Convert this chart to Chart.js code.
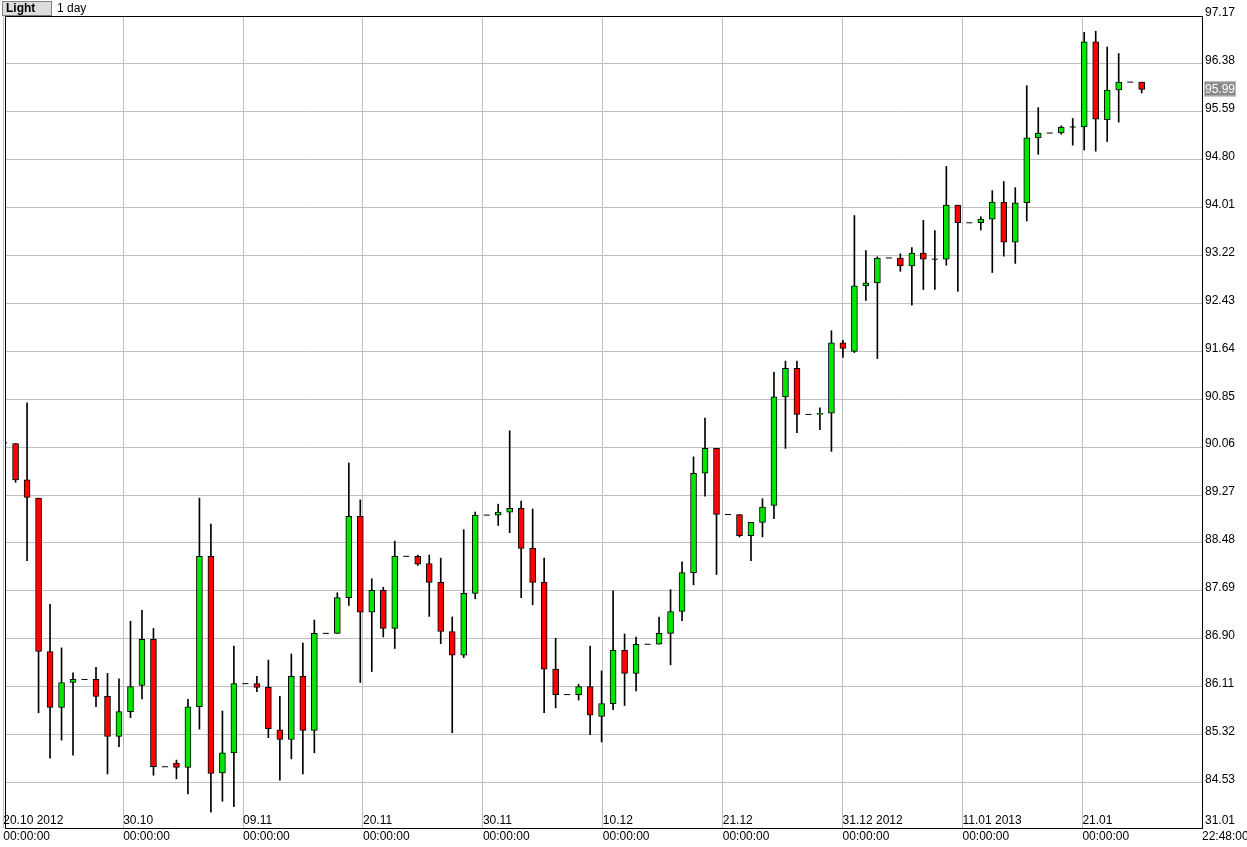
<!DOCTYPE html>
<html><head><meta charset="utf-8">
<script src="https://cdn.jsdelivr.net/npm/chart.js@4"></script>
<style>html,body{margin:0;padding:0;background:#fff}#c{display:block}</style>
</head><body>
<div style="width:1247px;height:847px"><canvas id="c"></canvas></div>
<script>
const openV=[90.13,90.12,89.52,89.22,86.69,85.77,86.18,86.23,86.23,85.95,85.29,85.70,86.13,86.89,84.79,84.85,84.78,85.78,88.26,84.69,85.02,86.16,86.16,86.10,85.40,85.24,86.28,85.39,86.99,86.99,87.58,88.92,87.34,87.70,87.07,88.26,88.26,88.14,87.83,87.02,86.63,87.65,88.94,88.94,88.99,89.05,88.39,87.83,86.40,85.98,85.98,86.11,85.62,85.83,86.71,86.33,86.81,86.81,86.99,87.35,87.99,89.63,90.04,88.95,88.95,88.60,88.82,89.10,90.89,91.36,90.60,90.60,90.62,91.78,91.64,92.72,92.77,93.18,93.18,93.05,93.26,93.16,93.16,94.05,93.76,93.76,93.82,94.10,93.44,94.09,95.16,95.24,95.24,95.34,95.34,96.745,95.46,95.95,96.08,96.08];
const highV=[90.13,90.12,90.79,89.22,87.47,86.75,86.34,86.23,86.43,86.33,86.24,87.19,87.37,87.07,84.79,84.90,85.90,89.22,88.79,85.71,86.78,86.16,86.28,86.55,85.95,86.65,86.83,87.21,86.99,87.66,89.80,89.19,87.89,87.75,88.51,88.26,88.28,88.28,88.23,87.26,88.70,88.99,88.94,89.12,90.33,89.17,89.04,88.23,86.91,85.98,86.15,86.78,86.37,87.69,86.98,86.93,86.81,87.26,87.71,88.17,89.90,90.54,90.04,88.95,88.95,88.82,89.21,91.30,91.48,91.48,90.60,90.71,91.98,91.82,93.88,93.30,93.20,93.18,93.25,93.35,93.80,93.63,94.69,94.05,93.76,93.86,94.29,94.44,94.34,96.02,95.66,95.24,95.36,95.48,96.90,96.92,96.66,96.55,96.08,96.08];
const lowV=[90.13,89.48,88.19,85.68,84.93,85.23,84.98,86.23,85.78,84.67,85.12,85.60,85.91,84.65,84.79,84.59,84.34,85.41,84.04,84.22,84.13,86.16,86.03,85.27,84.57,84.92,84.67,85.02,86.99,86.99,87.45,86.18,86.36,86.93,86.74,88.26,88.11,87.27,86.82,85.35,86.59,87.56,88.94,88.77,88.65,87.58,87.46,85.68,85.76,85.98,85.89,85.32,85.20,85.73,85.80,86.04,86.81,86.81,86.47,87.20,87.79,89.25,87.96,88.95,88.58,88.19,88.58,88.88,90.04,90.30,90.60,90.35,89.99,91.54,91.62,92.48,91.52,93.18,92.96,92.40,92.66,92.66,93.06,92.63,93.76,93.64,92.94,93.21,93.09,93.79,94.89,95.24,95.22,95.04,94.96,94.94,95.10,95.42,96.08,95.90];
const closeV=[90.13,89.52,89.23,86.69,85.77,86.18,86.23,86.23,85.95,85.29,85.70,86.11,86.89,84.79,84.79,84.78,85.78,88.26,84.68,85.02,86.16,86.16,86.10,85.42,85.24,86.28,85.39,86.99,86.99,87.58,88.92,87.34,87.70,87.07,88.26,88.26,88.13,87.83,87.02,86.63,87.65,88.94,88.94,88.99,89.05,88.39,87.83,86.40,85.98,85.98,86.11,85.64,85.83,86.71,86.33,86.81,86.81,86.99,87.35,87.99,89.63,90.04,88.95,88.95,88.60,88.82,89.07,90.89,91.36,90.60,90.60,90.62,91.78,91.69,92.72,92.77,93.18,93.18,93.05,93.26,93.16,93.16,94.05,93.76,93.76,93.82,94.10,93.44,94.09,95.16,95.24,95.24,95.34,95.34,96.745,95.47,95.95,96.08,96.08,95.96];
const yTicks=[97.17,96.38,95.59,94.80,94.01,93.22,92.43,91.64,90.85,90.06,89.27,88.48,87.69,86.90,86.11,85.32,84.53];
const xTickLabels=["20.10 2012","30.10","09.11","20.11","30.11","10.12","21.12","31.12 2012","11.01 2013","21.01"];
const lastLabel="95.99";
const GRID_STEP=120/11.5, GRID_START=-0.07;
const xTickVals=xTickLabels.map((_,i)=>GRID_START+i*GRID_STEP);

const idx=openV.map((_,i)=>i);
const isFlat=i=>Math.abs(openV[i]-closeV[i])<0.015;
const wicks=idx.filter(i=>highV[i]>lowV[i]).map(i=>({x:i,y:[lowV[i],highV[i]]}));
const bodies=idx.filter(i=>!isFlat(i)).map(i=>({x:i,y:[Math.min(openV[i],closeV[i]),Math.max(openV[i],closeV[i])]}));
const bodyCols=idx.filter(i=>!isFlat(i)).map(i=>closeV[i]>openV[i]?'#00e600':'#ff0000');
const flats=idx.filter(isFlat).map(i=>({x:i,y:closeV[i]}));
const F="12px 'Liberation Sans'";

const deco={id:'deco',
 afterDraw(ch){const c=ch.ctx,a=ch.chartArea,xs=ch.scales.x,ys=ch.scales.y;
  c.save();
  c.strokeStyle='#000';c.lineWidth=1;
  c.strokeRect(Math.round(a.left)+0.5,Math.round(a.top)+0.5,Math.round(a.right-a.left),Math.round(a.bottom-a.top));
  c.font=F;c.fillStyle='#000';c.textBaseline='middle';c.textAlign='left';
  yTicks.forEach(v=>c.fillText(v.toFixed(2),a.right+3,ys.getPixelForValue(v)-3));
  xTickLabels.forEach((t,i)=>{const px=xs.getPixelForValue(xTickVals[i]);
    c.fillText(t,px,a.bottom-7);c.fillText('00:00:00',px,a.bottom+9);});
  c.fillText('31.01',a.right+3,a.bottom-7);
  c.fillText('22:48:00',a.right,a.bottom+9);
  const ly=ys.getPixelForValue(closeV[closeV.length-1]);
  c.fillStyle='#888';c.fillRect(a.right+2,ly-8,32,15);
  c.strokeStyle='#bbb';c.strokeRect(a.right+2.5,ly-7.5,31,14);
  c.fillStyle='#fff';c.fillText(lastLabel,a.right+3,ly);
  c.fillStyle='#dcdcdc';c.fillRect(2,1,50,15);
  c.strokeStyle='#808080';c.strokeRect(2.5,1.5,49,14);
  c.fillStyle='#000';c.font="bold 12px 'Liberation Sans'";c.fillText('Light',6,9);
  c.font=F;c.fillText('1 day',57,9);
  c.restore();}};

new Chart(document.getElementById('c'),{
 data:{datasets:[
  {type:'bar',data:wicks,backgroundColor:'#000',borderWidth:0,barThickness:1,grouped:false,order:3},
  {type:'bar',data:bodies,backgroundColor:bodyCols,borderColor:'#000',borderWidth:1,borderSkipped:false,barThickness:6,grouped:false,order:2},
  {type:'line',data:flats,showLine:false,pointStyle:'line',pointRadius:3,pointBorderColor:'#000',pointBorderWidth:1,order:1}
 ]},
 plugins:[deco],
 options:{responsive:true,maintainAspectRatio:false,animation:false,
  layout:{padding:{top:16,left:2,right:0,bottom:0}},
  plugins:{legend:{display:false},tooltip:{enabled:false}},
  scales:{
   x:{type:'linear',min:0.08,max:104.25,offset:false,
      afterBuildTicks:s=>{s.ticks=xTickVals.map(v=>({value:v}));},
      afterFit:s=>{s.height=19;},
      ticks:{display:false},grid:{color:'#c0c0c0',drawTicks:false,offset:false},border:{display:false}},
   y:{position:'right',min:83.78,max:97.17,
      afterBuildTicks:s=>{s.ticks=yTicks.map(v=>({value:v}));},
      afterFit:s=>{s.width=45;},
      ticks:{display:false},grid:{color:'#c0c0c0',drawTicks:false},border:{display:false}}
  }}
});
</script></body></html>
